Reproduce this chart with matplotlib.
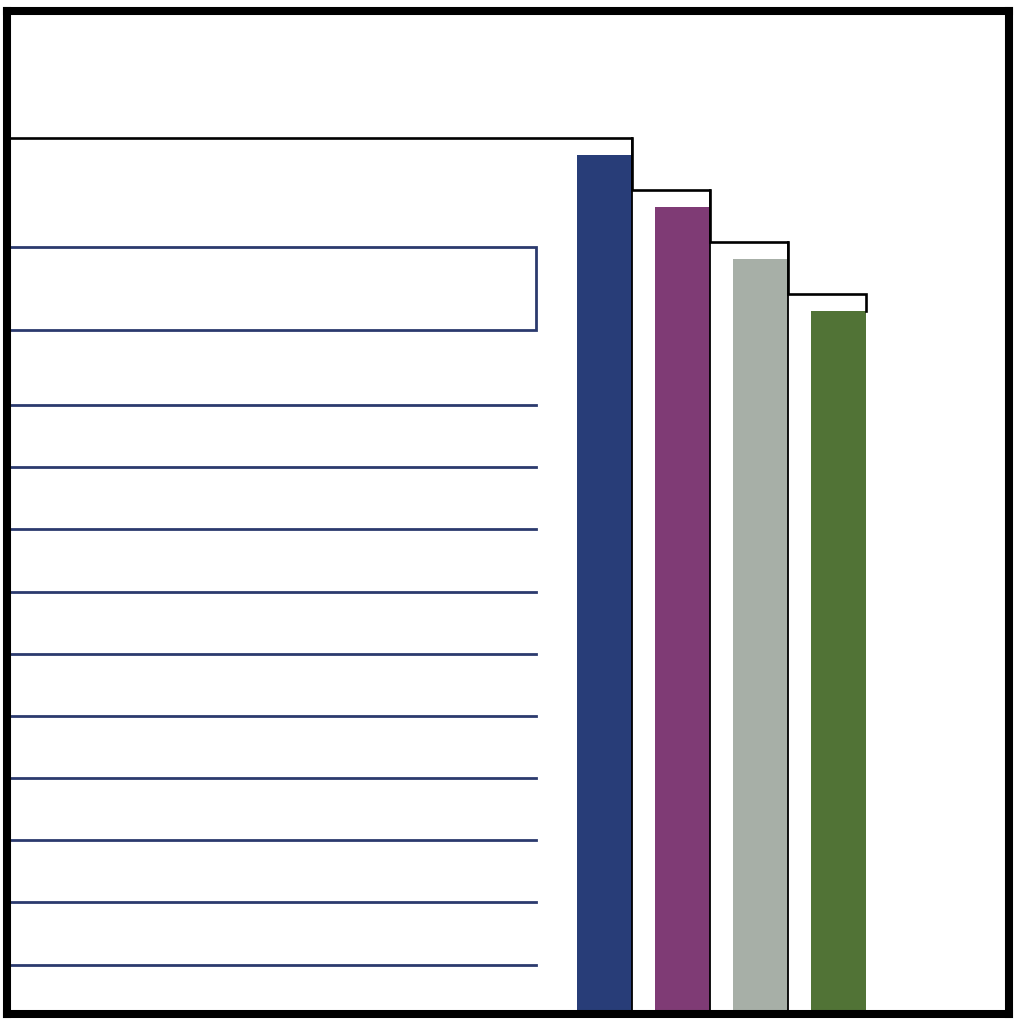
import matplotlib
matplotlib.use("Agg")
import matplotlib.pyplot as plt
import matplotlib.patches as patches

# bar heights (measured up from the baseline) and colours
bar_heights = [855, 803, 751, 699]
bar_colors = ["#283d78", "#7f3b75", "#a7afa7", "#517336"]
bar_width = 55
bar_spacing = 78
first_bar_left = 577
step_gap = 17          # black step outline sits this far above each bar

# navy "text lines" on the left panel
line_levels = [605, 543, 481, 418, 356, 294, 232, 170, 108, 45]
line_start, line_end = 10, 536
# navy box above the lines (bottom, top)
box_bottom, box_top = 680, 763

navy = "#2b3a6e"

fig = plt.figure(figsize=(10.2, 10.25), dpi=100)
ax = fig.add_axes([7 / 1020, 11 / 1025, 1002 / 1020, 1003 / 1025])
ax.set_xlim(7, 1009)
ax.set_ylim(-4, 999)
ax.set_xticks([])
ax.set_yticks([])
for s in ax.spines.values():
    s.set_linewidth(5.8)
    s.set_color("black")

# bars
lefts = [first_bar_left + i * bar_spacing for i in range(len(bar_heights))]
ax.bar(lefts, bar_heights, width=bar_width, align="edge",
       color=bar_colors, linewidth=0, zorder=2)

# right edges of the bars get a thin black line
rights = [l + bar_width for l in lefts]
for r, h in zip(rights[:-1], bar_heights[:-1]):
    ax.plot([r, r], [0, h + step_gap], color="black", lw=1.3, zorder=3)

# stepped outline
xs, ys = [7], [bar_heights[0] + step_gap]
for i, r in enumerate(rights):
    xs.append(r)
    ys.append(bar_heights[i] + step_gap)
    if i + 1 < len(rights):
        xs.append(r)
        ys.append(bar_heights[i + 1] + step_gap)
xs.append(rights[-1])
ys.append(bar_heights[-1])
ax.plot(xs, ys, color="black", lw=1.9, zorder=3, solid_joinstyle="miter")

# box and lines on the left
ax.add_patch(patches.Rectangle((line_start - 5, box_bottom), line_end - line_start + 5,
                               box_top - box_bottom, fill=False,
                               edgecolor=navy, lw=2.0, zorder=2))
for y in line_levels:
    ax.plot([line_start, line_end], [y, y], color=navy, lw=2.0, zorder=2)

fig.savefig("out.png", dpi=100)
